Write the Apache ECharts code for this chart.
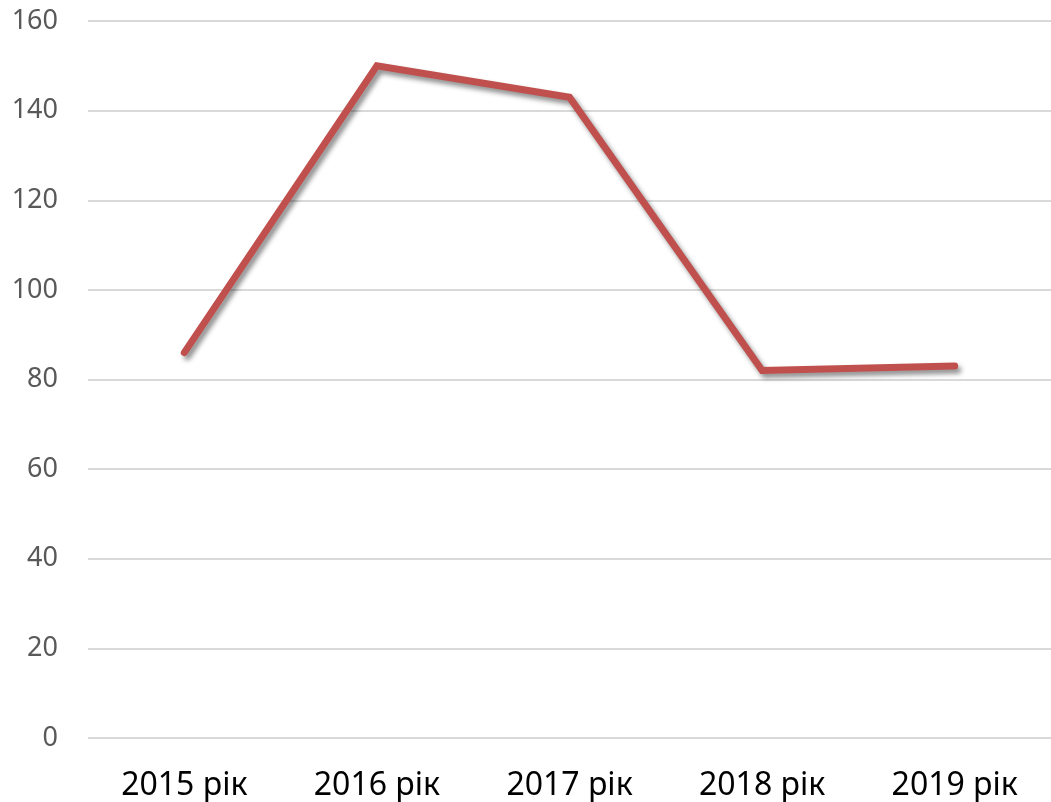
<!DOCTYPE html>
<html>
<head>
<meta charset="utf-8">
<script src="https://cdn.jsdelivr.net/npm/echarts@6/dist/echarts.min.js"></script>
<style>
  html, body { margin: 0; padding: 0; background: #fff; }
  #chart { width: 1051px; height: 802px; }
</style>
</head>
<body>
<div id="chart"></div>
<script>
// дані з графіка
const years = ['2015 рік', '2016 рік', '2017 рік', '2018 рік', '2019 рік']
const values = [86, 150, 143, 82, 83]
const yMin = 0
const yMax = 160
const yStep = 20

const chart = echarts.init(document.getElementById('chart'))
chart.setOption({
    backgroundColor: '#ffffff',
    animation: false,
    grid: {
        left: 88,
        top: 21,
        width: 970,
        height: 717
    },
    xAxis: {
        type: 'category',
        data: years,
        boundaryGap: true,
        axisLine: { show: false },
        axisTick: { show: false },
        axisLabel: {
            color: '#000',
            fontFamily: 'Noto Sans',
            fontSize: 32,
            margin: 32
        }
    },
    yAxis: {
        type: 'value',
        min: yMin,
        max: yMax,
        interval: yStep,
        axisLine: { show: false },
        axisTick: { show: false },
        splitLine: { lineStyle: { color: '#d9d9d9', width: 2 } },
        axisLabel: {
            color: '#595959',
            fontFamily: 'Noto Sans',
            fontSize: 27,
            margin: 30
        }
    },
    series: [
        {
            type: 'line',
            data: values,
            symbol: 'none',
            lineStyle: {
                color: '#c0504d',
                width: 7,
                cap: 'round',
                join: 'miter',
                shadowColor: 'rgba(0,0,0,0.45)',
                shadowBlur: 5,
                shadowOffsetX: 3,
                shadowOffsetY: 4
            }
        }
    ]
})
</script>
</body>
</html>
